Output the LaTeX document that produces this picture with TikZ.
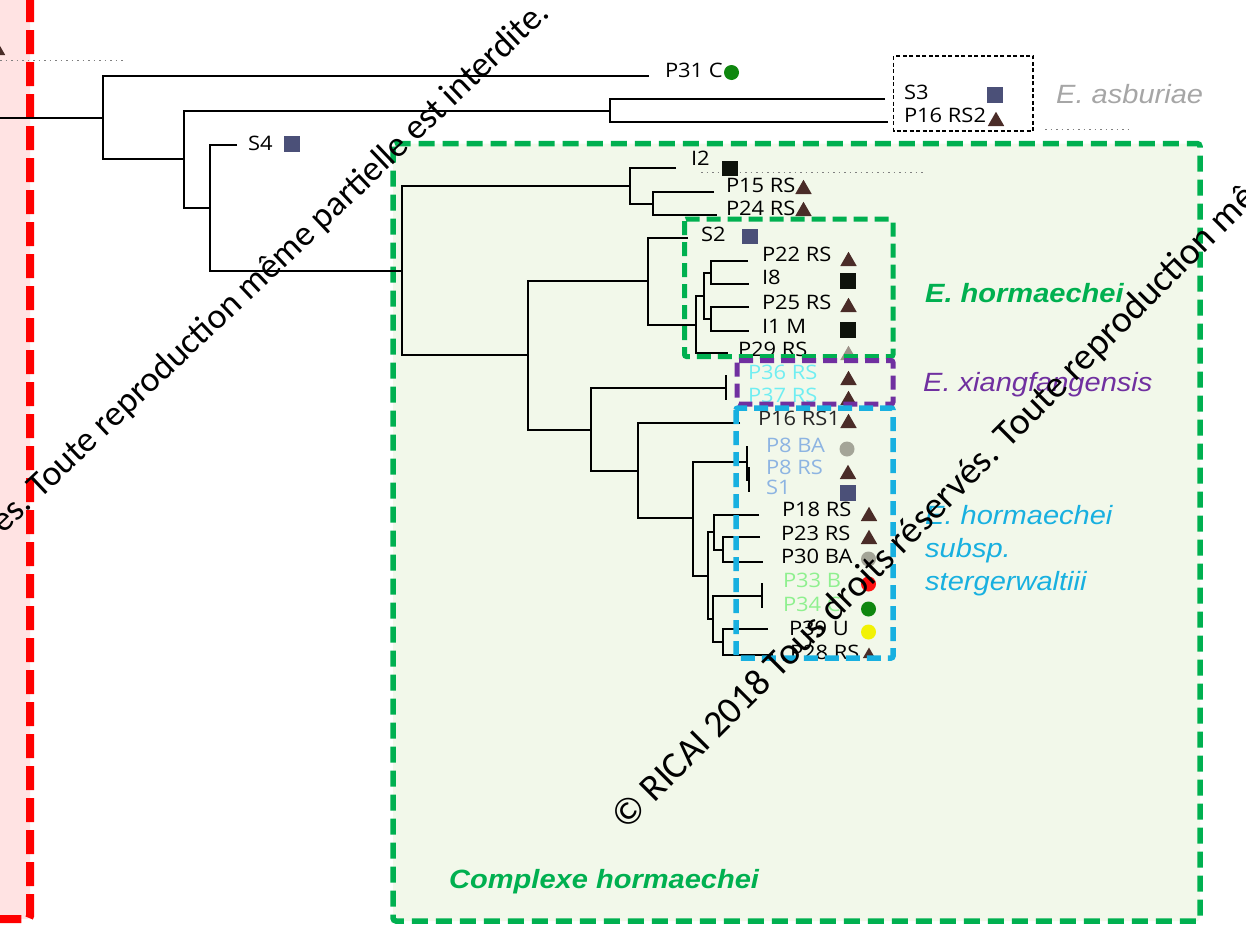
\documentclass[tikz,border=0pt]{standalone}
\usepackage{fontspec}
\newfontfamily\tipfont[FakeStretch=1.1]{Open Sans}
\newfontfamily\sppfont[FakeStretch=1.1]{Liberation Sans}
\newfontfamily\wmfont{Carlito}
\usetikzlibrary{positioning,shapes.geometric}
\definecolor{triBrown}{HTML}{4A2C28}
\definecolor{sqSlate}{HTML}{4B5078}
\definecolor{sqBlack}{HTML}{0E130B}
\definecolor{dotGray}{HTML}{A4A598}
\definecolor{dotGreen}{HTML}{0F870F}
\definecolor{dotYellow}{HTML}{F2F205}
\definecolor{dotRed}{HTML}{FF1010}
\definecolor{hormGreen}{HTML}{00B050}
\definecolor{xiangPurple}{HTML}{7030A0}
\definecolor{sterBlue}{HTML}{18B0E0}
\definecolor{asbGray}{HTML}{A6A6A6}
\definecolor{redLine}{HTML}{FF0000}
\definecolor{pinkFill}{HTML}{FFE3E3}
\definecolor{cplxFill}{HTML}{F2F8EA}
\definecolor{lblCyan}{HTML}{70EEF2}
\definecolor{lblBlue}{HTML}{8DB4E2}
\definecolor{lblGreen}{HTML}{8FF08F}
\begin{document}
\begin{tikzpicture}[x=1bp,y=-1bp,
  br/.style={line width=2bp,draw=black},
  tip/.style={font=\tipfont\fontsize{20}{24}\selectfont,anchor=base west,inner sep=0pt,outer sep=0pt},
  tri/.style={regular polygon,regular polygon sides=3,minimum size=19bp,inner sep=0pt,outer sep=0pt,fill=triBrown,anchor=south},
  sqr/.style={rectangle,minimum size=15.5bp,inner sep=0pt,outer sep=0pt,fill=sqSlate},
  blk/.style={rectangle,minimum size=15.5bp,inner sep=0pt,outer sep=0pt,fill=sqBlack},
  dot/.style={circle,minimum size=15bp,inner sep=0pt,outer sep=0pt},
  spp/.style={font=\sppfont\itshape\fontsize{26.5}{33}\selectfont,anchor=base west,inner sep=0pt,align=left},
  sppb/.style={font=\sppfont\bfseries\itshape\fontsize{26.5}{33}\selectfont,anchor=base west,inner sep=0pt},
  grpbox/.style={line width=5bp,dash pattern=on 14bp off 7bp,rounded corners=2bp},
  dotln/.style={line width=1bp,draw=gray,dash pattern=on 1.5bp off 4bp},
  wmark/.style={font=\wmfont\fontsize{36}{40}\selectfont,inner sep=0pt,text=black}
]
\useasboundingbox (0,0) rectangle (1246,925);
\clip (0,0) rectangle (1246,925);

\draw[fill=pinkFill,draw=redLine,line width=8bp,dash pattern=on 24bp off 8bp,rounded corners=3bp] (-40,-40) rectangle (30,919);
\draw[fill=cplxFill,draw=hormGreen,line width=5.5bp,dash pattern=on 16bp off 8bp,rounded corners=3bp] (393,143.5) rectangle (1200,921);

\coordinate (cutA) at (0,60);
\coordinate (cutB) at (126,60);
\draw[dotln] (cutA) -- (cutB);
\node[tri] (cut) at (-3,55) {};

\coordinate (root) at (0,117.5);
\coordinate (n1) at (103,117.5);
\coordinate (tP31) at (649,76);
\coordinate (n2) at (184,159);
\coordinate (n3) at (610,110.5);
\coordinate (tS3) at (885,99);
\coordinate (tP16b) at (888,122);
\coordinate (n4) at (210,208);
\coordinate (tS4) at (237,145);
\coordinate (n5) at (402,270.5);
\coordinate (n6) at (630,186);
\coordinate (tI2) at (676,168);
\coordinate (n6b) at (653,203.5);
\coordinate (tP15) at (714,192);
\coordinate (tP24) at (717,215);
\coordinate (n7) at (528,355);
\coordinate (n8) at (648,281);
\coordinate (tS2) at (688,238);
\coordinate (n9) at (696,324.5);
\coordinate (n10) at (704,296);
\coordinate (n10a) at (711,272.5);
\coordinate (tP22) at (748,261);
\coordinate (tI8) at (749,284);
\coordinate (n10b) at (711,319);
\coordinate (tP25) at (749,307);
\coordinate (tI1) at (749,331);
\coordinate (tP29) at (728,353);
\coordinate (n12) at (591,429.5);
\coordinate (n13) at (726,388);
\coordinate (tP36) at (726,375);
\coordinate (tP37) at (726,400);
\coordinate (n14) at (638,470.5);
\coordinate (tP16a) at (740,423);
\coordinate (n15) at (693,518);
\coordinate (n16) at (747,462);
\coordinate (tP8a) at (747,446);
\coordinate (n16b) at (749,479.5);
\coordinate (tP8b) at (749,467);
\coordinate (tS1) at (749,492);
\coordinate (n17) at (708,575.5);
\coordinate (n18) at (714,531.5);
\coordinate (tP18) at (759,515);
\coordinate (n19) at (723,549.5);
\coordinate (tP23) at (760,537);
\coordinate (tP30) at (763,562);
\coordinate (n20) at (713,619);
\coordinate (n21) at (762,595.5);
\coordinate (tP33) at (762,583);
\coordinate (tP34) at (762,608);
\coordinate (n22) at (723,642);
\coordinate (tP39) at (768,629);
\coordinate (tP28) at (773,655);

\draw[br] (root) -- (n1);
\draw[br] (tP31) -| (n1) |- (n2);
\draw[br] (n3) -| (n2) |- (n4);
\draw[br] (tS3) -| (n3) |- (tP16b);
\draw[br] (tS4) -| (n4) |- (n5);
\draw[br] (n6) -| (n5) |- (n7);
\draw[br] (tI2) -| (n6) |- (n6b);
\draw[br] (tP15) -| (n6b) |- (tP24);
\draw[br] (n8) -| (n7) |- (n12);
\draw[br] (tS2) -| (n8) |- (n9);
\draw[br] (n10) -| (n9) |- (tP29);
\draw[br] (n10a) -| (n10) |- (n10b);
\draw[br] (tP22) -| (n10a) |- (tI8);
\draw[br] (tP25) -| (n10b) |- (tI1);
\draw[br] (n13) -| (n12) |- (n14);
\draw[br] (tP36) -| (n13) |- (tP37);
\draw[br] (tP16a) -| (n14) |- (n15);
\draw[br] (n16) -| (n15) |- (n17);
\draw[br] (tP8a) -| (n16) |- (n16b);
\draw[br] (tP8b) -| (n16b) |- (tS1);
\draw[br] (n18) -| (n17) |- (n20);
\draw[br] (tP18) -| (n18) |- (n19);
\draw[br] (tP23) -| (n19) |- (tP30);
\draw[br] (n21) -| (n20) |- (n22);
\draw[br] (tP33) -| (n21) |- (tP34);
\draw[br] (tP39) -| (n22) |- (tP28);

\coordinate (dotA) at (701,172.5);
\coordinate (dotB) at (923,172.5);
\draw[dotln] (dotA) -- (dotB);
\coordinate (dotC) at (1045,129);
\coordinate (dotD) at (1131,129);
\draw[dotln] (dotC) -- (dotD);

\node[tip] (lP31) at (665,77) {P31 C};
\node[dot,fill=dotGreen] (mP31) at (731.5,72.5) {};
\node[tip] (lS3) at (904,99) {S3};
\node[sqr] (mS3) at (995,95) {};
\node[tip] (lP16b) at (904,122) {P16 RS2};
\node[tri] (mP16b) at (996,126) {};
\node[tip] (lS4) at (248,150) {S4};
\node[sqr] (mS4) at (292,144) {};
\node[tip] (lI2) at (691,165) {I2};
\node[blk] (mI2) at (730,168.5) {};
\node[tip] (lP15) at (726,192) {P15 RS};
\node[tri] (mP15) at (803.5,194) {};
\node[tip] (lP24) at (726,215) {P24 RS};
\node[tri] (mP24) at (803.5,216) {};
\node[tip] (lS2) at (701,241) {S2};
\node[sqr] (mS2) at (750,236.5) {};
\node[tip] (lP22) at (762,261) {P22 RS};
\node[tri] (mP22) at (848.5,266) {};
\node[tip] (lI8) at (762,284) {I8};
\node[blk] (mI8) at (848,281) {};
\node[tip] (lP25) at (762,309) {P25 RS};
\node[tri] (mP25) at (848.5,312) {};
\node[tip] (lI1) at (762,333) {I1 M};
\node[blk] (mI1) at (848,330) {};
\node[tip] (lP29) at (738,356) {P29 RS};
\node[tri,opacity=0.5] (mP29) at (848.5,360) {};
\node[tip,text=lblCyan] (lP36) at (748,379) {P36 RS};
\node[tri] (mP36) at (848.5,385) {};
\node[tip,text=lblCyan] (lP37) at (748,402) {P37 RS};
\node[tri] (mP37) at (848.5,405) {};
\node[tip,text=black!85] (lP16a) at (758,425) {P16 RS1};
\node[tri] (mP16a) at (848.5,428) {};
\node[tip,text=lblBlue] (lP8a) at (766,452) {P8 BA};
\node[dot,fill=dotGray] (mP8a) at (847,449) {};
\node[tip,text=lblBlue] (lP8b) at (766,474) {P8 RS};
\node[tri] (mP8b) at (848,479) {};
\node[tip,text=lblBlue] (lS1) at (766,494) {S1};
\node[sqr] (mS1) at (848,493) {};
\node[tip] (lP18) at (782,516) {P18 RS};
\node[tri] (mP18) at (869,521) {};
\node[tip] (lP23) at (781,540) {P23 RS};
\node[tri] (mP23) at (869,544) {};
\node[tip] (lP30) at (781,563) {P30 BA};
\node[dot,fill=dotGray] (mP30) at (868.5,559) {};
\node[tip,text=lblGreen] (lP33) at (783,587) {P33 B};
\node[dot,fill=dotRed] (mP33) at (868.5,584) {};
\node[tip,text=lblGreen] (lP34) at (783,611) {P34 C};
\node[dot,fill=dotGreen] (mP34) at (868.5,609) {};
\node[tip] (lP39) at (789,635) {P39 U};
\node[dot,fill=dotYellow] (mP39) at (868.5,632) {};
\node[tip] (lP28) at (790,659) {P28 RS};
\node[tri,minimum size=14bp] (mP28) at (869,658) {};

\draw[line width=1.3bp,dash pattern=on 4bp off 2.5bp] (893.5,56) rectangle (1033,131);
\draw[grpbox,draw=hormGreen] (684.5,219) rectangle (893,356.5);
\draw[grpbox,draw=xiangPurple] (737,360.5) rectangle (893,404);
\draw[grpbox,draw=sterBlue,line width=5.5bp] (736,408) rectangle (893,658);

\node[spp,text=asbGray] (asb) at (1056,103.5) {E. asburiae};
\node[sppb,text=hormGreen] (horm) at (925,302) {E. hormaechei};
\node[spp,text=xiangPurple] (xiang) at (923,391) {E. xiangfangensis};
\node[spp,text=sterBlue] (ster) at (925,590) {E. hormaechei\\subsp.\\stergerwaltiii};
\node[sppb,text=hormGreen] (cplx) at (449,888) {Complexe hormaechei};

\node[wmark,rotate=43.5,anchor=base east] (wm1) at (551,15) {© RICAI 2018 Tous droits réservés. Toute reproduction même partielle est interdite.};
\node[wmark,rotate=45,anchor=base west,font=\wmfont\fontsize{38}{42}\selectfont] (wm2) at (626,832) {© RICAI 2018 Tous droits réservés. Toute reproduction même partielle est interdite.};
\end{tikzpicture}
\end{document}
